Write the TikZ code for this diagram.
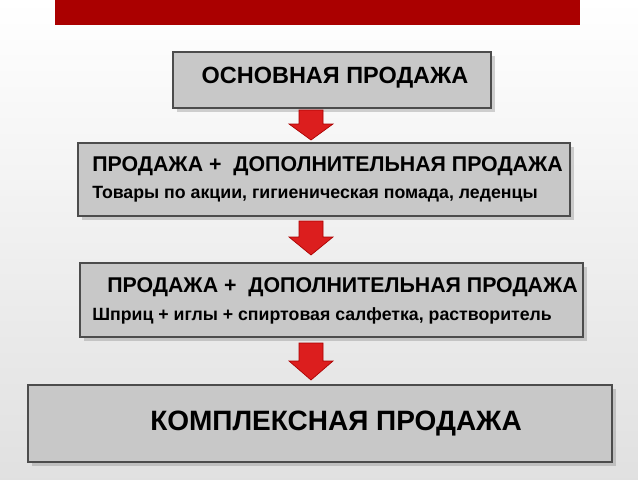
\documentclass[tikz,border=0pt]{standalone}
\usepackage{fontspec}
\setmainfont{Liberation Sans}
\usetikzlibrary{shadows}
\definecolor{barred}{RGB}{170,0,0}
\definecolor{boxgray}{RGB}{200,200,200}
\definecolor{arrred}{RGB}{220,30,30}
\tikzstyle{stage} = [draw=black!70, fill=boxgray, line width=0.8pt, drop shadow={opacity=0.35}]
\tikzstyle{downarrow} = [fill=arrred, draw=barred, line width=0.5pt]
% block arrow: top y, head start y, tip y
\newcommand{\blockarrow}[3]{%
  \draw[downarrow] (299,#1) -- (323,#1) -- (323,#2) -- (333,#2) -- (311,#3) -- (289,#2) -- (299,#2) -- cycle;}

\begin{document}
\begin{tikzpicture}[x=0.75pt,y=-0.75pt]
	% Background
	\shade[top color=white, bottom color=black!12] (0,0) rectangle (638,479);
	\useasboundingbox (0,0) rectangle (638,479);
	\fill[barred] (55,0) rectangle (580,25);
	
	% Stages:
	\draw[stage] (173,52) rectangle (491,108);
	\node[font=\bfseries\fontsize{17.6}{20}\selectfont] (s1) at (335,78) {ОСНОВНАЯ ПРОДАЖА};
	
	\draw[stage] (78,143) rectangle (570,216);
	\node[anchor=west, inner sep=0pt, font=\bfseries\fontsize{16}{18}\selectfont] (s2a) at (92,166) {ПРОДАЖА +\ \ ДОПОЛНИТЕЛЬНАЯ ПРОДАЖА};
	\node[anchor=west, inner sep=0pt, font=\bfseries\fontsize{13.3}{15}\selectfont] (s2b) at (92,194) {Товары по акции, гигиеническая помада, леденцы};
	
	\draw[stage] (80,263) rectangle (583,337);
	\node[anchor=west, inner sep=0pt, font=\bfseries\fontsize{16}{18}\selectfont] (s3a) at (107,287) {ПРОДАЖА +\ \ ДОПОЛНИТЕЛЬНАЯ ПРОДАЖА};
	\node[anchor=west, inner sep=0pt, font=\bfseries\fontsize{13.3}{15}\selectfont] (s3b) at (92,316) {Шприц + иглы + спиртовая салфетка, растворитель};
	
	\draw[stage] (28,385) rectangle (612,462);
	\node[font=\bfseries\fontsize{21}{24}\selectfont] (s4) at (336,424) {КОМПЛЕКСНАЯ ПРОДАЖА};
	
	% Arrows:
	\blockarrow{110}{124}{140}
	\blockarrow{221}{237}{255}
	\blockarrow{343}{361}{380}
\end{tikzpicture}
\end{document}
